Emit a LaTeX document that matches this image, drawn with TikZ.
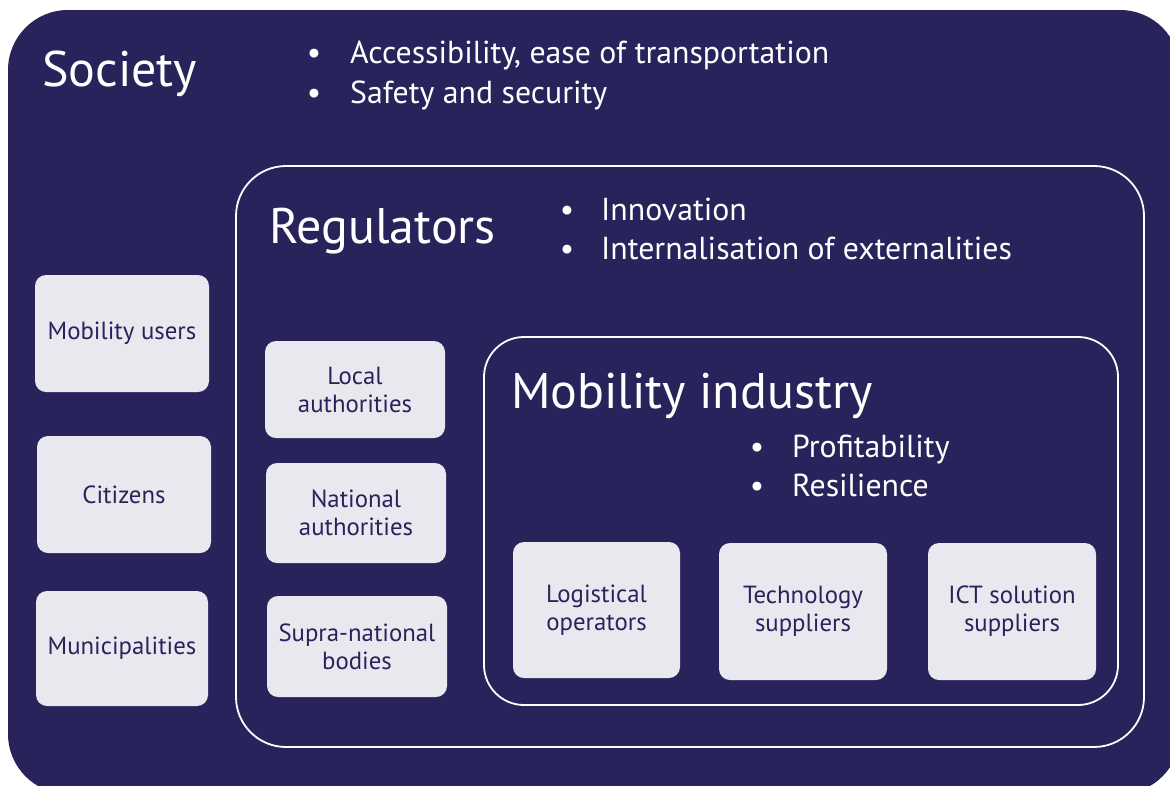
\documentclass[tikz,border=0pt]{standalone}
\usepackage{fontspec}
\setmainfont{PT Sans}
\usepackage{xcolor}
\usepackage{tikz}
\usetikzlibrary{positioning}
\definecolor{navy}{HTML}{29235C}
\definecolor{tilefill}{HTML}{E9E8EF}
\tikzset{
    layer/.style={rectangle, inner sep=0pt},
    ring/.style={layer, draw=white, line width=1.8pt},
    tile/.style={rectangle, rounded corners=11pt, fill=tilefill, text=navy, align=center,
        inner sep=0pt, font=\fontsize{24.8}{28}\selectfont},
    title/.style={anchor=base west, text=white, inner sep=0pt, font=\fontsize{50}{56}\selectfont},
    point/.style={anchor=base west, text=white, inner sep=0pt, font=\fontsize{31.8}{40}\selectfont},
    dot/.style={point, anchor=base}
}

\begin{document}
\begin{tikzpicture}[x=1pt, y=-1pt]
    \useasboundingbox[fill=white] (0,0) rectangle (1170,785);
    \clip (0,0) rectangle (1170,785);

    % Society
    \node[layer, fill=navy, rounded corners=60pt, minimum width=1172pt, minimum height=784pt] (society) at (594,402) {};
    \node[title] (societyT) at (42,86) {Society};
    \node[dot] (sd1) at (314,63) {•};
    \node[point] (s1) at (350,63) {Accessibility, ease of transportation};
    \node[dot] (sd2) at (314,103) {•};
    \node[point] (s2) at (350,103) {Safety and security};
    \node[tile, minimum width=174pt, minimum height=117pt] (users) at (122,333.5) {Mobility users};
    \node[tile, minimum width=174pt, minimum height=117pt] (citizens) at (124,494.5) {Citizens};
    \node[tile, minimum width=172pt, minimum height=115pt] (municip) at (122,648.5) {Municipalities};

    % Regulators
    \node[ring, rounded corners=50pt, minimum width=908pt, minimum height=581pt] (regulators) at (690,456.5) {};
    \node[title] (regulatorsT) at (269,243) {Regulators};
    \node[dot] (rd1) at (567,220) {•};
    \node[point] (r1) at (601,220) {Innovation};
    \node[dot] (rd2) at (567,259) {•};
    \node[point] (r2) at (601,259) {Internalisation of externalities};
    \node[tile, minimum width=180pt, minimum height=97pt] (local) at (355,389.5) {Local\\authorities};
    \node[tile, minimum width=180pt, minimum height=100pt] (national) at (356,513) {National\\authorities};
    \node[tile, minimum width=180pt, minimum height=101pt] (supra) at (357,646.5) {Supra-national\\bodies};

    % Mobility industry
    \node[ring, rounded corners=40pt, minimum width=634pt, minimum height=368pt] (industry) at (801,521) {};
    \node[title] (industryT) at (511,408) {Mobility industry};
    \node[dot] (md1) at (757,457) {•};
    \node[point] (m1) at (792,457) {Profitability};
    \node[dot] (md2) at (757,496) {•};
    \node[point] (m2) at (792,496) {Resilience};
    \node[tile, minimum width=167pt, minimum height=136pt] (logistic) at (596.5,610) {Logistical\\operators};
    \node[tile, minimum width=168pt, minimum height=137pt] (techno) at (803,611.5) {Technology\\suppliers};
    \node[tile, minimum width=168pt, minimum height=137pt] (ict) at (1012,611.5) {ICT solution\\suppliers};
\end{tikzpicture}
\end{document}
